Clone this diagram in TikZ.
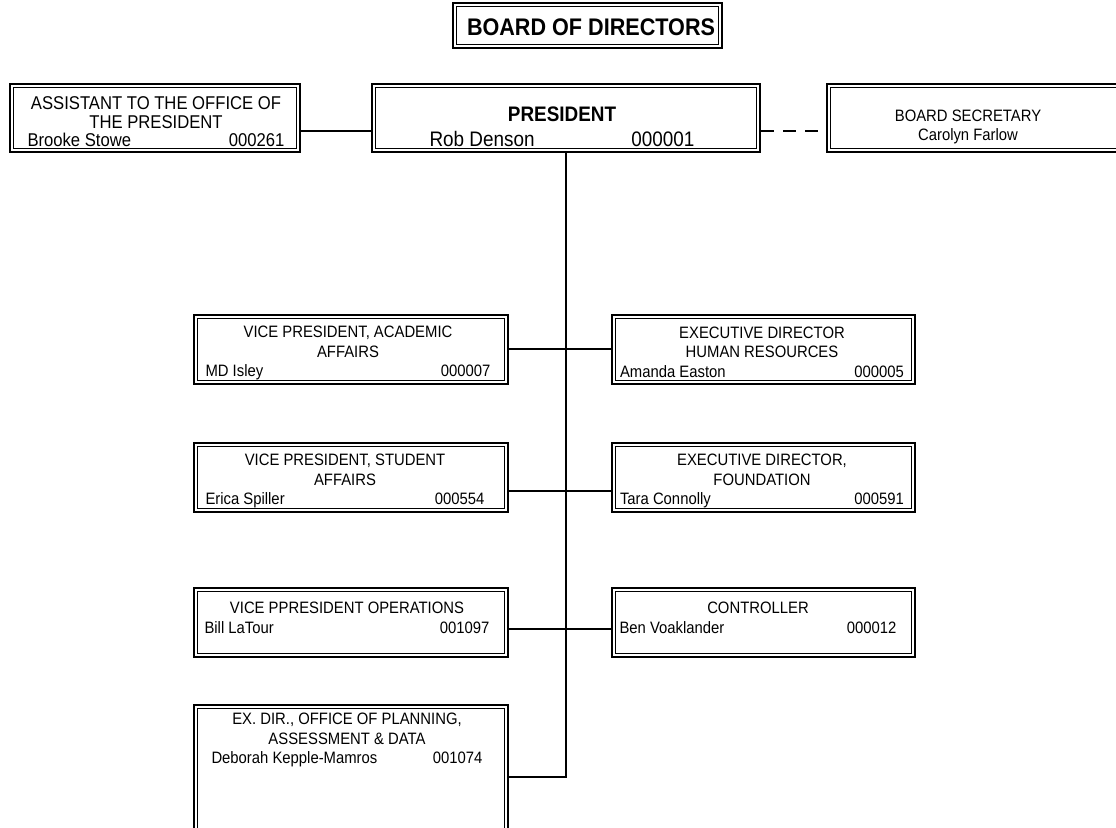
\documentclass[tikz,border=0pt]{standalone}
\usepackage{fontspec}
\setmainfont[FakeStretch=0.9]{Liberation Sans}
\begin{document}
\begin{tikzpicture}[x=1pt,y=-1pt,
  obox/.style={draw, line width=2pt, inner sep=0pt,
    path picture={\draw[line width=0.9pt] ([shift={(3.5pt,3.5pt)}]path picture bounding box.south west) rectangle ([shift={(-3.5pt,-3.5pt)}]path picture bounding box.north east);}},
  txt/.style={align=center, inner sep=0pt, font=\fontsize{16.5}{19.5}\selectfont},
  conn/.style={line width=1.5pt},
]
\clip (0,0) rectangle (1116,827);
% boxes
\node[obox, minimum width=269pt, minimum height=45pt] (board) at (587.5,25.5) {};
\node[obox, minimum width=290pt, minimum height=68pt] (asst) at (155,118) {};
\node[obox, minimum width=388pt, minimum height=68pt] (pres) at (566,118) {};
\node[obox, minimum width=313pt, minimum height=68pt] (sec) at (983.5,118) {};
\node[obox, minimum width=314pt, minimum height=69pt] (vpa) at (351,349.5) {};
\node[obox, minimum width=303pt, minimum height=69pt] (hr) at (763.5,349.5) {};
\node[obox, minimum width=314pt, minimum height=69pt] (vps) at (351,477.5) {};
\node[obox, minimum width=303pt, minimum height=69pt] (fdn) at (763.5,477.5) {};
\node[obox, minimum width=314pt, minimum height=69pt] (ops) at (351,622.5) {};
\node[obox, minimum width=303pt, minimum height=69pt] (ctl) at (763.5,622.5) {};
\node[obox, minimum width=314pt, minimum height=145pt] (plan) at (351,777.5) {};
% texts
\node[inner sep=0pt, font=\fontsize{24}{28}\selectfont\bfseries] (tboard) at (591,27.5) {BOARD OF DIRECTORS};
\node[txt, font=\fontsize{18.5}{18.5}\selectfont] (tasst) at (156,122) {ASSISTANT TO THE OFFICE OF\\THE PRESIDENT\\\makebox[257pt]{Brooke Stowe\hfill 000261}};
\node[inner sep=0pt, align=center, font=\fontsize{21}{25}\selectfont] (tpres) at (562,127) {\textbf{PRESIDENT}\\\makebox[265pt]{Rob Denson\hfill 000001}};
\node[txt, font=\fontsize{16.5}{18.5}\selectfont] (tsec) at (968,127) {BOARD SECRETARY\\Carolyn Farlow};
\node[txt] (tvpa) at (348,353) {VICE PRESIDENT, ACADEMIC\\AFFAIRS\\\makebox[285pt]{MD Isley\hfill 000007}};
\node[txt] (thr) at (762,352) {EXECUTIVE DIRECTOR\\HUMAN RESOURCES\\\makebox[284pt]{Amanda Easton\hfill 000005}};
\node[txt] (tvps) at (345,481) {VICE PRESIDENT, STUDENT\\AFFAIRS\\\makebox[279pt]{Erica Spiller\hfill 000554}};
\node[txt] (tfdn) at (762,481) {EXECUTIVE DIRECTOR,\\FOUNDATION\\\makebox[284pt]{Tara Connolly\hfill 000591}};
\node[txt] (tops) at (347,618) {VICE PPRESIDENT OPERATIONS\\\makebox[285pt]{Bill LaTour\hfill 001097}};
\node[txt] (tctl) at (758,618) {CONTROLLER\\\makebox[277pt]{Ben Voaklander\hfill 000012}};
\node[txt] (tplan) at (347,740) {EX. DIR., OFFICE OF PLANNING,\\ASSESSMENT \& DATA\\\makebox[271pt]{Deborah Kepple-Mamros\hfill 001074}};
% junctions
\coordinate (j0) at (566,131);
\coordinate (j1) at (566,349);
\coordinate (j2) at (566,491);
\coordinate (j3) at (566,629);
\coordinate (j4) at (566,777);
% connectors
\draw[conn] (asst.east |- j0) -- (pres.west |- j0);
\draw[conn, dash pattern=on 13pt off 9pt] (pres.east |- j0) -- (sec.west |- j0);
\draw[conn] (pres.south) -- (j4) -- (plan.east |- j4);
\draw[conn] (vpa.east |- j1) -- (hr.west |- j1);
\draw[conn] (vps.east |- j2) -- (fdn.west |- j2);
\draw[conn] (ops.east |- j3) -- (ctl.west |- j3);
\end{tikzpicture}
\end{document}
